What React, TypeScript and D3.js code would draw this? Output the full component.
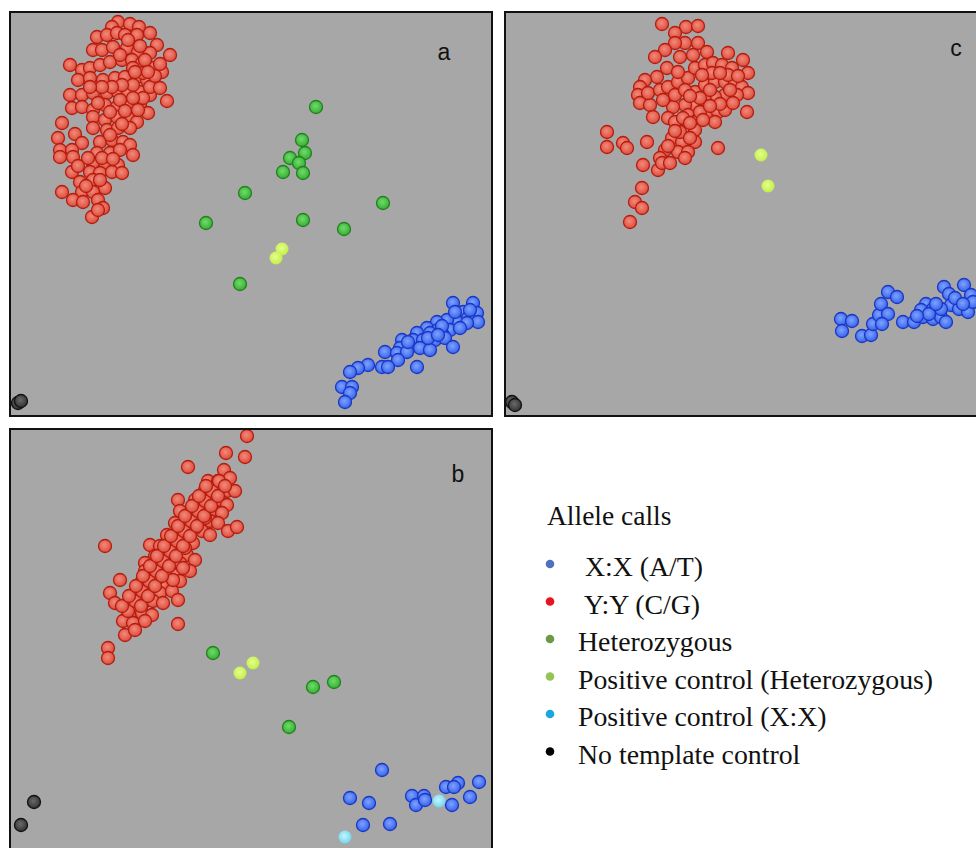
import React, { useEffect, useRef } from "react";
import * as d3 from "d3";

type Pt = [number, number];

// allele X (horizontal) vs allele Y (vertical) signal, arbitrary units
const redA: Pt[] = [
  [108, 394], [120, 392], [129, 389], [102, 389], [87, 379], [97, 381], [107, 383], [115, 381],
  [127, 381], [140, 383], [147, 371], [160, 361], [83, 366], [92, 366], [103, 369], [117, 368],
  [128, 364], [140, 363], [60, 351], [72, 346], [80, 348], [90, 351], [100, 354], [112, 356],
  [122, 356], [132, 353], [143, 348], [152, 344], [68, 336], [80, 338], [93, 336], [105, 338],
  [115, 339], [127, 339], [137, 336], [145, 331], [60, 321], [72, 321], [83, 323], [97, 323],
  [108, 324], [118, 324], [130, 324], [140, 321], [157, 315], [62, 308], [72, 309], [83, 306],
  [95, 311], [107, 309], [118, 313], [130, 311], [138, 303], [52, 293], [83, 299], [95, 296],
  [107, 299], [118, 299], [127, 294], [83, 288], [97, 286], [108, 288], [120, 288], [48, 278],
  [65, 282], [72, 273], [90, 274], [102, 276], [113, 274], [120, 271], [50, 266], [62, 266],
  [50, 259], [63, 259], [87, 263], [100, 263], [110, 266], [123, 261], [83, 253], [95, 253],
  [108, 251], [62, 244], [80, 244], [90, 243], [102, 244], [112, 243], [70, 234], [83, 236],
  [95, 228], [52, 224], [72, 224], [83, 224], [63, 216], [73, 214], [88, 216], [93, 208],
  [82, 199], [88, 206], [123, 348], [133, 343], [140, 329], [133, 318], [123, 331], [112, 331],
  [102, 329], [92, 329], [80, 329], [123, 318], [110, 316],
  [130, 370], [135, 356], [145, 340], [150, 352], [125, 344], [138, 344], [150, 328], [128, 306],
  [115, 305], [100, 304], [88, 313], [112, 292], [100, 281], [92, 258], [103, 257], [78, 258],
  [76, 230], [90, 236], [68, 250], [118, 376], [110, 361],
];
const greenA: Pt[] = [
  [306, 309], [292, 276], [295, 263], [280, 258], [289, 253], [273, 244], [293, 243],
  [235, 223], [373, 213], [196, 193], [293, 196], [334, 187], [230, 132],
];
const ctrlHetA: Pt[] = [[272, 167], [266, 158]];
const blueA: Pt[] = [
  [443, 113], [463, 113], [453, 104], [467, 103], [458, 98], [468, 94], [447, 94], [437, 96],
  [427, 94], [417, 88], [428, 86], [440, 86], [457, 93], [407, 83], [420, 83], [433, 81],
  [403, 76], [413, 76], [425, 76], [435, 78], [392, 76], [390, 68], [400, 69], [410, 68],
  [420, 66], [443, 69], [375, 64], [387, 63], [397, 64], [388, 56], [372, 49], [378, 49],
  [358, 51], [348, 48], [340, 44], [407, 49], [332, 29], [342, 29], [340, 23], [335, 14],
  [445, 104], [450, 88], [432, 90], [418, 78], [428, 81], [398, 74], [460, 106],
];
const ntcA: Pt[] = [[8, 13], [11, 15]];

const redC: Pt[] = [
  [157, 392], [181, 389], [193, 390], [170, 383], [180, 373], [170, 373], [193, 373], [202, 364],
  [160, 366], [150, 359], [175, 359], [188, 361], [223, 363], [238, 356], [162, 348], [152, 339],
  [140, 336], [135, 329], [133, 321], [135, 313], [145, 311], [148, 299], [143, 323], [155, 326],
  [163, 329], [173, 334], [183, 338], [190, 348], [200, 351], [208, 353], [217, 351], [227, 348],
  [243, 343], [190, 324], [200, 331], [210, 334], [220, 334], [230, 334], [237, 329], [243, 323],
  [232, 321], [220, 321], [210, 319], [200, 316], [190, 311], [180, 311], [168, 309], [170, 321],
  [158, 316], [163, 298], [170, 294], [183, 301], [190, 294], [203, 304], [213, 304], [220, 306],
  [210, 294], [242, 304], [180, 286], [190, 286], [167, 278], [177, 274], [190, 274], [173, 264],
  [183, 264], [160, 266], [155, 258], [153, 246], [157, 253], [138, 251], [142, 274], [118, 273],
  [122, 268], [102, 284], [102, 269], [213, 268], [137, 228], [130, 214], [137, 208], [125, 194],
  [207, 343], [197, 341], [180, 326], [173, 344], [223, 341],
  [215, 343], [225, 326], [233, 340], [205, 326], [195, 318], [215, 312], [228, 313], [185, 320],
  [195, 304], [205, 310], [178, 298], [185, 293], [175, 284], [185, 278], [170, 285], [180, 258],
  [165, 253], [198, 296], [163, 270],
];
const ctrlHetC: Pt[] = [[256, 261], [263, 230]];
const blueC: Pt[] = [
  [336, 97], [347, 95], [337, 85], [357, 80], [366, 81], [368, 92], [374, 101], [376, 112],
  [383, 124], [392, 119], [383, 102], [377, 92], [398, 94], [409, 94], [418, 99], [421, 112],
  [416, 106], [428, 107], [428, 97], [436, 99], [439, 129], [444, 122], [459, 131], [466, 121],
  [446, 111], [454, 107], [463, 104], [468, 114], [441, 94], [436, 107],
  [424, 102], [431, 112], [450, 118], [458, 112], [412, 100],
];
const ntcC: Pt[] = [[7, 14], [10, 11]];

const redB: Pt[] = [
  [237, 423], [216, 406], [235, 402], [178, 392], [214, 389], [220, 381], [198, 378], [208, 378],
  [195, 369], [205, 369], [217, 368], [225, 368], [168, 359], [185, 359], [198, 361], [210, 359],
  [217, 354], [170, 348], [182, 351], [192, 349], [203, 349], [212, 346], [165, 336], [177, 339],
  [188, 339], [200, 338], [208, 336], [218, 328], [227, 332], [157, 324], [168, 328], [180, 329],
  [192, 328], [200, 324], [95, 313], [140, 314], [150, 313], [162, 316], [172, 318], [183, 316],
  [145, 303], [157, 304], [167, 306], [177, 304], [185, 299], [135, 296], [147, 294], [158, 294],
  [170, 296], [180, 288], [135, 288], [145, 284], [155, 284], [167, 284], [110, 279], [132, 278],
  [142, 276], [153, 274], [170, 278], [100, 266], [127, 268], [138, 266], [150, 266], [162, 268],
  [105, 256], [122, 258], [133, 256], [143, 258], [153, 256], [168, 259], [122, 248], [132, 246],
  [142, 244], [113, 238], [123, 236], [135, 238], [168, 235], [115, 224], [125, 229], [98, 211],
  [98, 201], [185, 331], [173, 291], [163, 279], [148, 281], [195, 341], [175, 311],
  [118, 248], [125, 258], [132, 268], [139, 278], [146, 288], [153, 298], [160, 308], [167, 318],
  [174, 328], [181, 338], [188, 348], [195, 358], [202, 368], [209, 378],
  [112, 253], [119, 263], [126, 273], [133, 283], [140, 293], [147, 303], [154, 313], [161, 323],
  [168, 333], [175, 343], [182, 353], [189, 363], [196, 373],
  [131, 253], [138, 263], [145, 273], [152, 283], [159, 293], [166, 303], [173, 313], [180, 323],
  [187, 333], [194, 343], [201, 353], [208, 363], [215, 373],
];
const greenB: Pt[] = [[203, 206], [303, 172], [324, 177], [279, 132]];
const ctrlHetB: Pt[] = [[243, 196], [230, 186]];
const blueB: Pt[] = [
  [372, 89], [340, 61], [359, 56], [353, 34], [380, 35], [402, 63], [414, 63], [406, 54],
  [415, 59], [442, 54], [436, 72], [448, 76], [444, 72], [460, 62], [469, 77],
];
const ctrlXXB: Pt[] = [[429, 58], [335, 22]];
const ntcB: Pt[] = [[24, 57], [11, 34]];

const legendLabels = [
  " X:X (A/T)",
  " Y:Y (C/G)",
  "Heterozygous",
  "Positive control (Heterozygous)",
  "Positive control (X:X)",
  "No template control",
];
const legendColors = ["#4f72c0", "#e8141c", "#6a9a48", "#94c454", "#1aa7e0", "#000000"];

const styles: Record<string, { inner: string; outer: string; stroke: string }> = {
  red: { inner: "#f28a7c", outer: "#dc4a38", stroke: "#b51c0f" },
  blue: { inner: "#7fa2ff", outer: "#3462ea", stroke: "#1b36c4" },
  green: { inner: "#6fdc6a", outer: "#35ac32", stroke: "#23801f" },
  ctrlHet: { inner: "#e6ff8e", outer: "#c0ee46", stroke: "none" },
  ctrlXX: { inner: "#c6f6ff", outer: "#70d4f0", stroke: "none" },
  ntc: { inner: "#6a6a6a", outer: "#303030", stroke: "#111111" },
};

const panels = [
  {
    label: "a", left: 10, top: 12, width: 482, height: 404, labelX: 444, labelY: 60,
    sets: [["red", redA], ["green", greenA], ["ctrlHet", ctrlHetA], ["blue", blueA], ["ntc", ntcA]],
  },
  {
    label: "c", left: 505, top: 12, width: 482, height: 404, labelX: 956, labelY: 56,
    sets: [["red", redC], ["ctrlHet", ctrlHetC], ["blue", blueC], ["ntc", ntcC]],
  },
  {
    label: "b", left: 10, top: 429, width: 482, height: 430, labelX: 458, labelY: 482,
    sets: [["red", redB], ["green", greenB], ["ctrlHet", ctrlHetB], ["blue", blueB], ["ctrlXX", ctrlXXB], ["ntc", ntcB]],
  },
] as const;

const drawChart = (node: SVGSVGElement) => {
  const svg = d3.select(node);
  svg.selectAll("*").remove();
  const defs = svg.append("defs");

  Object.entries(styles).forEach(([k, s]) => {
    const g = defs.append("radialGradient").attr("id", "grad-" + k).attr("cx", "45%").attr("cy", "42%").attr("r", "60%");
    g.append("stop").attr("offset", "0%").attr("stop-color", s.inner);
    g.append("stop").attr("offset", "100%").attr("stop-color", s.outer);
  });

  panels.forEach((p, i) => {
    defs.append("clipPath").attr("id", "clip-" + i)
      .append("rect").attr("x", p.left).attr("y", p.top).attr("width", p.width).attr("height", p.height);

    const x = d3.scaleLinear().domain([0, p.width]).range([p.left, p.left + p.width]);
    const y = d3.scaleLinear().domain([0, p.height]).range([p.top + p.height, p.top]);

    svg.append("rect")
      .attr("x", p.left).attr("y", p.top).attr("width", p.width).attr("height", p.height)
      .attr("fill", "#a7a7a7");

    const g = svg.append("g").attr("clip-path", `url(#clip-${i})`);
    p.sets.forEach(([kind, pts]) => {
      const s = styles[kind];
      g.append("g").selectAll("circle").data(pts as Pt[]).enter().append("circle")
        .attr("cx", (d) => x(d[0]))
        .attr("cy", (d) => y(d[1]))
        .attr("r", 6.5)
        .attr("fill", `url(#grad-${kind})`)
        .attr("stroke", s.stroke)
        .attr("stroke-width", 1.3);
    });

    svg.append("rect")
      .attr("x", p.left).attr("y", p.top).attr("width", p.width).attr("height", p.height)
      .attr("fill", "none").attr("stroke", "#111").attr("stroke-width", 2);

    svg.append("text")
      .attr("x", p.labelX).attr("y", p.labelY)
      .attr("text-anchor", "middle")
      .attr("font-family", "Liberation Sans, Arial, sans-serif")
      .attr("font-size", 23)
      .attr("fill", "#111")
      .text(p.label);
  });

  const legend = svg.append("g").attr("font-family", "Liberation Serif, Times New Roman, serif").attr("fill", "#111");
  legend.append("text").attr("x", 547).attr("y", 525).attr("font-size", 27.5).text("Allele calls");
  const row = d3.scaleLinear().domain([0, 1]).range([576, 613.5]);
  legendLabels.forEach((lab, i) => {
    legend.append("circle").attr("cx", 550).attr("cy", row(i) - 12).attr("r", 4.3).attr("fill", legendColors[i]);
    legend.append("text")
      .attr("x", 578).attr("y", row(i))
      .attr("font-size", 27.8)
      .style("white-space", "pre")
      .text(lab);
  });
};

export default function App() {
  const ref = useRef<SVGSVGElement>(null);
  useEffect(() => {
    document.body.style.margin = "0";
    if (ref.current) drawChart(ref.current);
  }, []);
  return <svg ref={ref} width={976} height={848} style={{ display: "block", background: "#fff" }} />;
}
